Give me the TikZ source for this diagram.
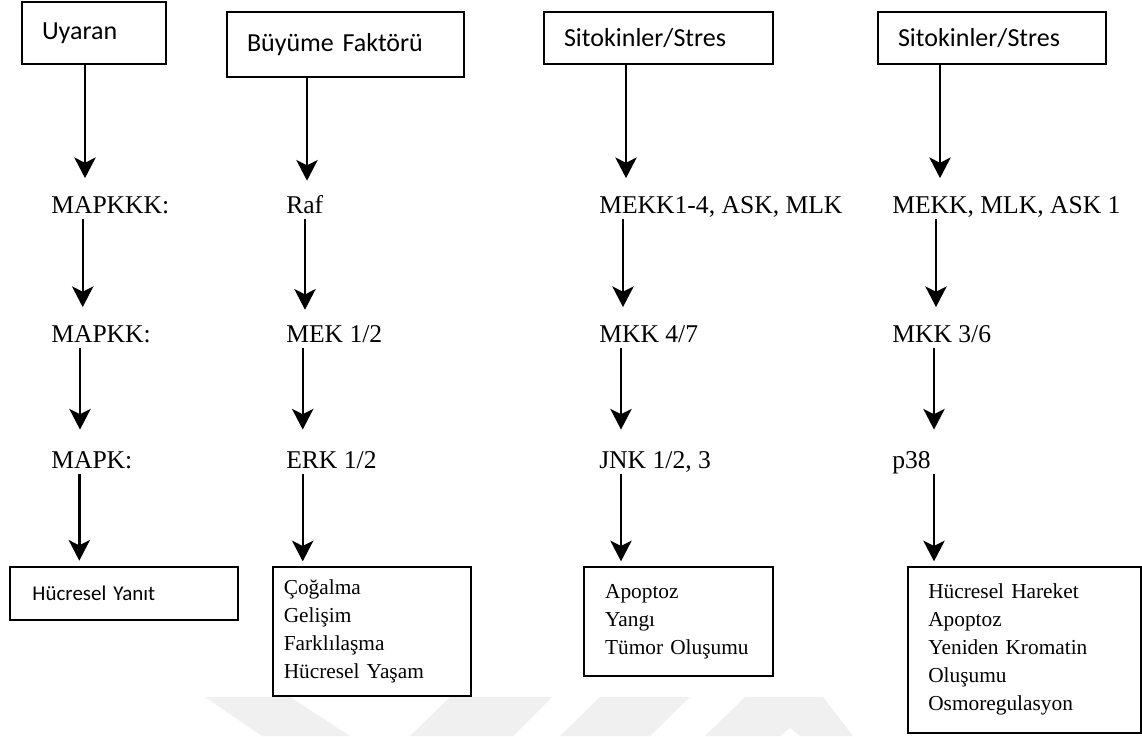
\documentclass[tikz,border=0pt]{standalone}
\usepackage{fontspec}
\setmainfont{Liberation Serif}
\newfontfamily\calib{Carlito}
\usetikzlibrary{arrows.meta}
\begin{document}
\begin{tikzpicture}[x=0.75pt,y=-0.75pt,
  every node/.style={inner sep=0pt},
  topbox/.style={draw, line width=1.3pt, align=left, inner xsep=15pt, font=\calib\fontsize{19.5}{23}\selectfont},
  lbl/.style={anchor=base west, font=\fontsize{19.2}{23}\selectfont, text height=13pt, text depth=4pt},
  outbox/.style={draw, line width=1.2pt, anchor=north west, align=left, font=\fontsize{16}{21}\selectfont},
  arr/.style={line width=1.8pt, -{Stealth[length=15.5pt,width=16pt,inset=4pt]}},
  wm/.style={fill=gray!12, draw=none}]

\useasboundingbox (0,0) rectangle (1142,736);
\fill[white] (0,0) rectangle (1142,736);

% faint watermark
\fill[wm] (205,697) -- (290,697) -- (350,736) -- (262,736) -- cycle;
\fill[wm] (450,697) -- (552,697) -- (513,736) -- (410,736) -- cycle;
\fill[wm] (600,697) -- (690,697) -- (650,736) -- (560,736) -- cycle;
\fill[wm] (745,697) -- (823,697) -- (853,736) -- (800,736) -- (790,728) -- (780,736) -- (705,736) -- cycle;

% top boxes
\node[topbox, minimum width=108pt, minimum height=46.5pt, text width=78pt] (uy) at (94,33) {Uyaran};
\node[topbox, minimum width=177.75pt, minimum height=48.75pt, text width=147.75pt] (bf) at (345.5,44.5) {Büyüme Faktörü};
\node[topbox, minimum width=171.75pt, minimum height=39pt, text width=141.75pt] (s1) at (658.5,38) {Sitokinler/Stres};
\node[topbox, minimum width=171pt, minimum height=39pt, text width=141pt] (s2) at (992,38) {Sitokinler/Stres};

% row 1
\node[lbl] (a1) at (51,213.6) {MAPKKK:};
\node[lbl] (b1) at (286,213.6) {Raf};
\node[lbl] (c1) at (599,213.6) {MEKK1-4, ASK, MLK};
\node[lbl] (d1) at (892,213.6) {MEKK, MLK, ASK 1};
% row 2
\node[lbl] (a2) at (51,342) {MAPKK:};
\node[lbl] (b2) at (286,342) {MEK 1/2};
\node[lbl] (c2) at (599,342) {MKK 4/7};
\node[lbl] (d2) at (892,342) {MKK 3/6};
% row 3
\node[lbl] (a3) at (51,468.5) {MAPK:};
\node[lbl] (b3) at (286,468.5) {ERK 1/2};
\node[lbl] (c3) at (599,468.5) {JNK 1/2, 3};
\node[lbl] (d3) at (892,468.5) {p38};

% output boxes
\node[outbox, font=\calib\fontsize{15.75}{19}\selectfont, minimum width=171pt, minimum height=39.75pt, text width=137pt, inner xsep=17pt] (oa) at (9,566) {Hücresel Yanıt};
\node[outbox, minimum width=148.5pt, minimum height=96.75pt, text width=132pt, inner xsep=8.25pt] (ob) at (272,566) {Çoğalma\\Gelişim\\Farklılaşma\\Hücresel Yaşam};
\node[outbox, minimum width=141.75pt, minimum height=81.75pt, text width=109.75pt, inner xsep=16pt] (oc) at (583,566) {Apoptoz\\Yangı\\Tümor Oluşumu};
\node[outbox, minimum width=174.75pt, minimum height=124.5pt, text width=144pt, inner xsep=15.4pt] (od) at (907,566) {Hücresel Hareket\\Apoptoz\\Yeniden Kromatin\\Oluşumu\\Osmoregulasyon};

% column x coordinates (per row of arrows)
\coordinate (xa1) at (85,0);   \coordinate (xb1) at (307,0);
\coordinate (xc1) at (626,0);  \coordinate (xd1) at (940,0);
\coordinate (xa2) at (82.7,0); \coordinate (xb2) at (305,0);
\coordinate (xc2) at (623,0);  \coordinate (xd2) at (936,0);
\coordinate (xa3) at (80,0);   \coordinate (xb3) at (302.7,0);
\coordinate (xc3) at (621,0);  \coordinate (xd3) at (934,0);
\coordinate (xa4) at (79.3,0); \coordinate (xb4) at (302.7,0);
\coordinate (xc4) at (621,0);  \coordinate (xd4) at (934,0);

% arrows
\draw[arr, shorten >=13.4pt] (uy.south -| xa1) -- (a1.north -| xa1);
\draw[arr, shorten >=11.5pt] (bf.south -| xb1) -- (b1.north -| xb1);
\draw[arr, shorten >=13.4pt] (s1.south -| xc1) -- (c1.north -| xc1);
\draw[arr, shorten >=13.4pt] (s2.south -| xd1) -- (d1.north -| xd1);

\draw[arr, shorten >=13pt] (a1.south -| xa2) -- (a2.north -| xa2);
\draw[arr, shorten >=11pt] (b1.south -| xb2) -- (b2.north -| xb2);
\draw[arr, shorten >=13pt] (c1.south -| xc2) -- (c2.north -| xc2);
\draw[arr, shorten >=13pt] (d1.south -| xd2) -- (d2.north -| xd2);

\draw[arr, shorten >=16pt] (a2.south -| xa3) -- (a3.north -| xa3);
\draw[arr, shorten >=16pt] (b2.south -| xb3) -- (b3.north -| xb3);
\draw[arr, shorten >=16pt] (c2.south -| xc3) -- (c3.north -| xc3);
\draw[arr, shorten >=16pt] (d2.south -| xd3) -- (d3.north -| xd3);

\draw[arr, shorten >=4pt] (a3.south -| xa4) -- (oa.north -| xa4);
\draw[arr, shorten >=3.5pt] (b3.south -| xb4) -- (ob.north -| xb4);
\draw[arr, shorten >=3.5pt] (c3.south -| xc4) -- (oc.north -| xc4);
\draw[arr, shorten >=3.5pt] (d3.south -| xd4) -- (od.north -| xd4);
\end{tikzpicture}
\end{document}
